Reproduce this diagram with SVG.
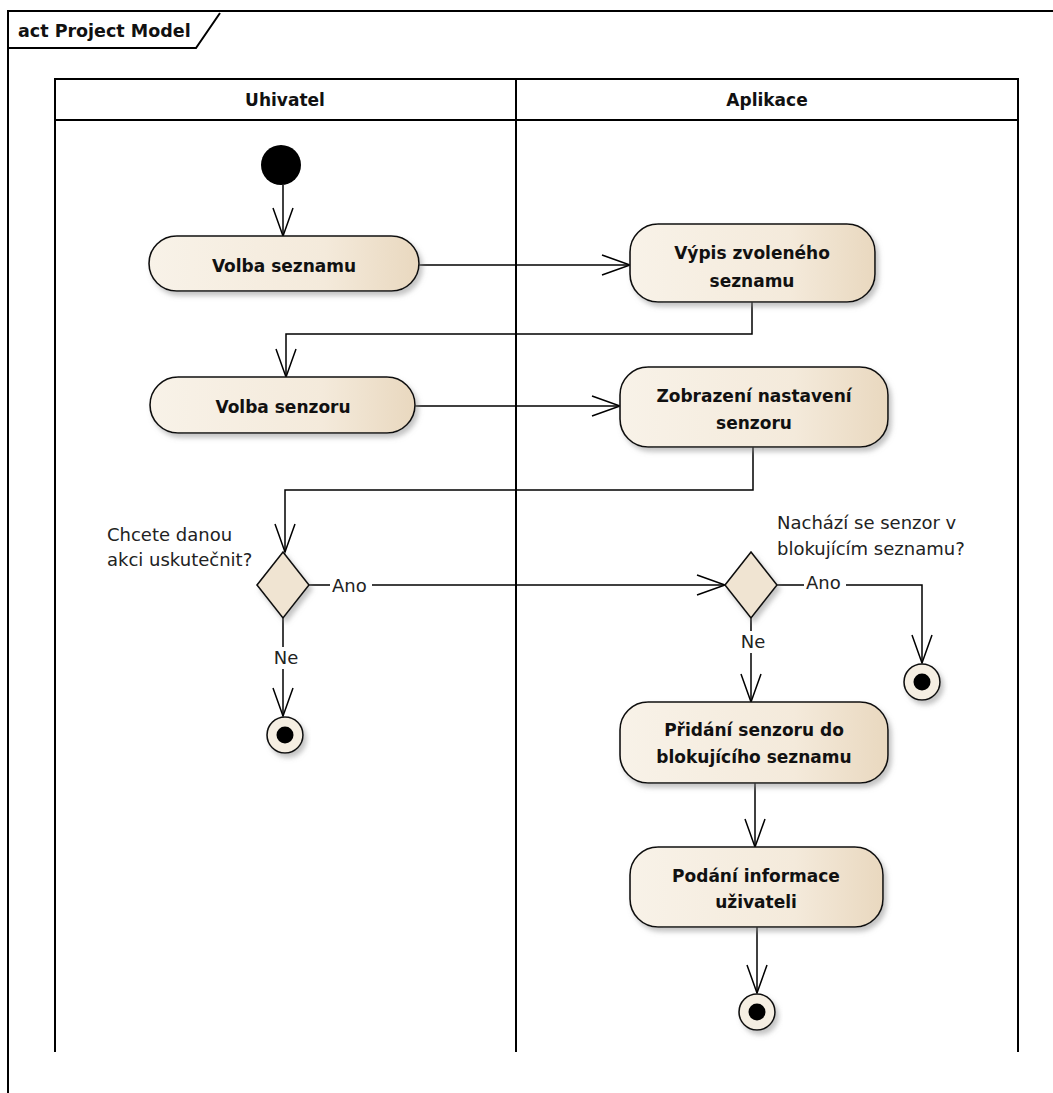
<svg xmlns="http://www.w3.org/2000/svg" width="1053" height="1093" viewBox="0 0 1053 1093">
<style>
.frame{fill:none;stroke:#000;stroke-width:2}
.lane{fill:none;stroke:#000;stroke-width:2}
.act{fill:url(#g);stroke:#111;stroke-width:1.6;filter:url(#sh)}
.dec{fill:#f0e4d2;stroke:#111;stroke-width:1.6;filter:url(#sh)}
.t{font-family:"DejaVu Sans",sans-serif;font-weight:bold;font-size:17px;fill:#111;text-anchor:middle}
.hdr{font-family:"DejaVu Sans",sans-serif;font-weight:bold;font-size:17px;fill:#111;text-anchor:middle}
.lbl{font-family:"DejaVu Sans",sans-serif;font-size:18px;fill:#222}
.c{fill:none;stroke:#000;stroke-width:1.5;marker-end:url(#arr)}
.bg{fill:#fff}
</style>
<defs>
<linearGradient id="g" x1="0" y1="0" x2="1" y2="0">
<stop offset="0" stop-color="#f8f2e8"/>
<stop offset="0.65" stop-color="#f4eadb"/>
<stop offset="1" stop-color="#e9d8bf"/>
</linearGradient>
<filter id="sh" x="-10%" y="-10%" width="130%" height="140%">
<feDropShadow dx="3" dy="4" stdDeviation="2.5" flood-color="#888" flood-opacity="0.5"/>
</filter>
<marker id="arr" markerUnits="userSpaceOnUse" markerWidth="32" markerHeight="26" viewBox="-30 -13 32 26" refX="0" refY="0" orient="auto" overflow="visible">
<path d="M-28,-10 L0,0 L-28,10" fill="none" stroke="#000" stroke-width="1.5"/>
</marker>
</defs>
<rect width="1053" height="1093" fill="#fff"/>
<g id="frame">
<path class="frame" d="M8,1100 L8,11 L1060,11"/>
<path class="frame" d="M8,48 L196,48 L220,13"/>
<text x="18" y="37" style="font-family:'DejaVu Sans',sans-serif;font-weight:bold;font-size:17.5px;fill:#111">act Project Model</text>
</g>
<g id="lanes">
<path class="lane" d="M55,1052 L55,79 L1018,79 L1018,1052 M516,79 L516,1052 M55,120 L1018,120"/>
<text class="hdr" x="285" y="106">Uhivatel</text>
<text class="hdr" x="767" y="106">Aplikace</text>
</g>
<g id="connectors">
<path class="c" d="M283,185 L283,236"/>
<path class="c" d="M419,265 L630,265"/>
<path class="c" d="M752,302 L752,334 L286,334 L286,377"/>
<path class="c" d="M415,406 L620,406"/>
<path class="c" d="M753,447 L753,490 L285,490 L285,552"/>
<path class="c" d="M309,585 L725,585"/>
<path class="c" d="M283,618 L283,716"/>
<path class="c" d="M777,585 L922,585 L922,663"/>
<path class="c" d="M751,618 L751,702"/>
<path class="c" d="M755,783 L755,847"/>
<path class="c" d="M757,927 L757,993"/>
<rect class="bg" x="330" y="575" width="42" height="20"/>
<text class="lbl" x="332" y="592">Ano</text>
<rect class="bg" x="272" y="647" width="28" height="22"/>
<text class="lbl" x="286" y="664" text-anchor="middle">Ne</text>
<rect class="bg" x="804" y="572" width="42" height="20"/>
<text class="lbl" x="806" y="589">Ano</text>
<rect class="bg" x="739" y="631" width="28" height="22"/>
<text class="lbl" x="753" y="648" text-anchor="middle">Ne</text>
</g>
<g id="initial">
<circle cx="281" cy="165" r="20" fill="#000"/>
</g>
<g id="volba-seznamu">
<rect class="act" x="149" y="236" width="270" height="55" rx="27.5"/>
<text class="t" x="284" y="272">Volba seznamu</text>
</g>
<g id="vypis">
<rect class="act" x="630" y="224" width="245" height="78" rx="28"/>
<text class="t" x="752" y="259">Výpis zvoleného</text>
<text class="t" x="752" y="287">seznamu</text>
</g>
<g id="volba-senzoru">
<rect class="act" x="150" y="377" width="265" height="56" rx="28"/>
<text class="t" x="283" y="413">Volba senzoru</text>
</g>
<g id="zobrazeni">
<rect class="act" x="620" y="367" width="268" height="80" rx="28"/>
<text class="t" x="754" y="402">Zobrazení nastavení</text>
<text class="t" x="754" y="429">senzoru</text>
</g>
<g id="decision1">
<path class="dec" d="M283,552 L309,585 L283,618 L257,585 Z"/>
<text class="lbl" x="107" y="541">Chcete danou</text>
<text class="lbl" x="107" y="566">akci uskutečnit?</text>
</g>
<g id="decision2">
<path class="dec" d="M751,552 L777,585 L751,618 L725,585 Z"/>
<text class="lbl" x="777" y="529">Nachází se senzor v</text>
<text class="lbl" x="777" y="555">blokujícím seznamu?</text>
</g>
<g id="final1">
<circle cx="285" cy="735" r="18" fill="#f5eee2" stroke="#111" stroke-width="1.6" filter="url(#sh)"/>
<circle cx="285" cy="735" r="8.5" fill="#000"/>
</g>
<g id="final2">
<circle cx="922" cy="682" r="18" fill="#f5eee2" stroke="#111" stroke-width="1.6" filter="url(#sh)"/>
<circle cx="922" cy="682" r="8.5" fill="#000"/>
</g>
<g id="pridani">
<rect class="act" x="620" y="702" width="268" height="81" rx="28"/>
<text class="t" x="754" y="736">Přidání senzoru do</text>
<text class="t" x="754" y="763">blokujícího seznamu</text>
</g>
<g id="podani">
<rect class="act" x="630" y="847" width="253" height="80" rx="28"/>
<text class="t" x="756" y="882">Podání informace</text>
<text class="t" x="756" y="908">uživateli</text>
</g>
<g id="final3">
<circle cx="757" cy="1012" r="18" fill="#f5eee2" stroke="#111" stroke-width="1.6" filter="url(#sh)"/>
<circle cx="757" cy="1012" r="8.5" fill="#000"/>
</g>
</svg>
